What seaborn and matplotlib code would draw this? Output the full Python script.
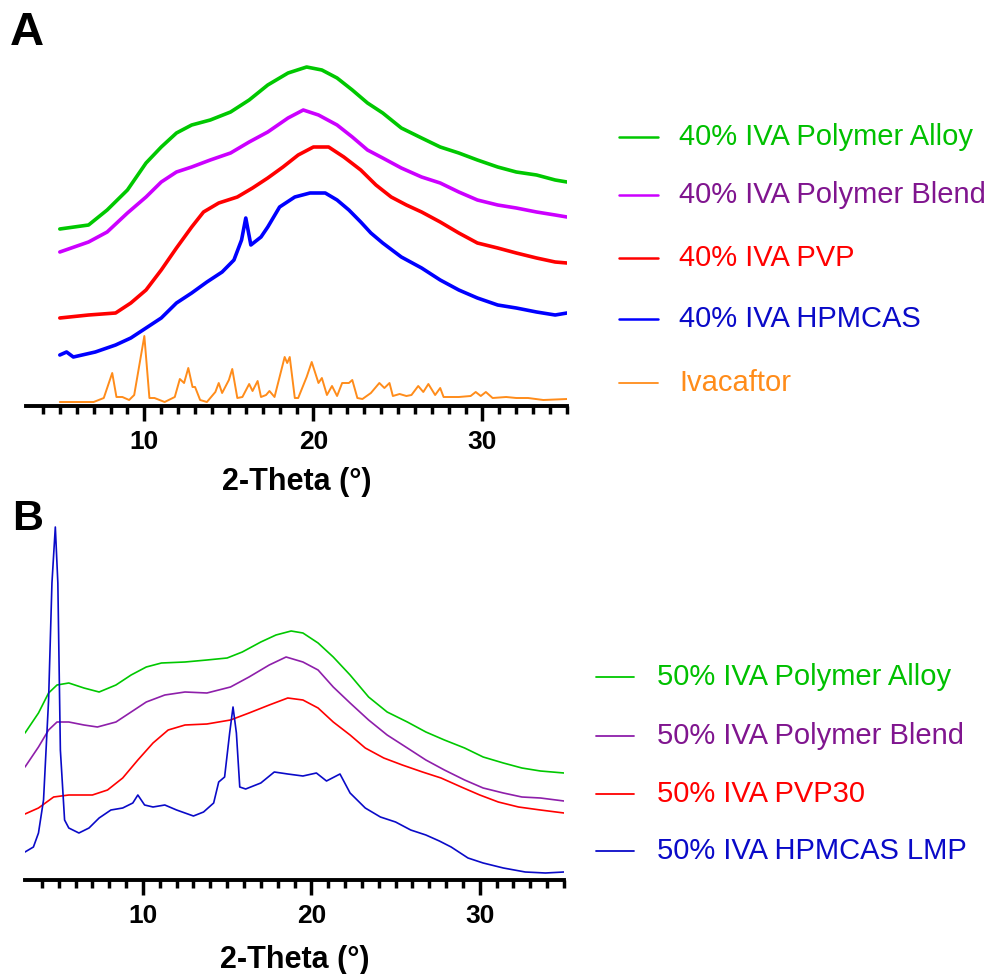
import pandas as pd
import matplotlib.pyplot as plt
import seaborn as sns
from matplotlib.lines import Line2D
from matplotlib.ticker import FixedLocator

sns.set_style("white")
plt.rcParams["font.family"] = ["Liberation Sans", "DejaVu Sans"]
plt.rcParams["text.color"] = "black"
plt.rcParams["xtick.color"] = "black"
plt.rcParams["axes.labelcolor"] = "black"

# ---- panel A : 40% drug load (intensities in a.u., stacked as plotted) ----
a_alloy_x = [5.0, 6.7, 7.8, 9.0, 10.1, 11.0, 11.9, 12.8, 13.9, 15.1, 16.2, 17.3, 18.5, 19.6, 20.5,
             21.4, 22.3, 23.2, 24.1, 25.2, 26.4, 27.5, 28.6, 29.7, 30.9, 32.0, 33.2, 34.3, 35.0]
a_alloy_y = [177, 181, 196, 216, 243, 259, 273, 281, 286, 294, 306, 321, 333, 339, 336,
             328, 316, 303, 293, 278, 268, 259, 253, 246, 239, 234, 231, 226, 224]

a_blend_x = [5.0, 6.7, 7.8, 9.0, 10.1, 11.0, 11.9, 12.8, 13.9, 15.1, 16.2, 17.3, 18.5, 19.4, 20.3,
             21.4, 22.3, 23.2, 24.1, 25.2, 26.4, 27.5, 28.6, 29.7, 30.9, 32.0, 33.2, 34.3, 35.0]
a_blend_y = [154, 164, 174, 193, 209, 224, 234, 239, 246, 253, 264, 274, 288, 296, 291,
             281, 269, 256, 248, 238, 229, 223, 214, 206, 201, 198, 194, 191, 189]

a_pvp_x = [5.0, 6.7, 8.3, 9.2, 10.1, 11.0, 11.9, 12.8, 13.5, 14.4, 15.5, 16.4, 17.3, 18.2, 19.1, 20.0,
           20.9, 21.8, 22.8, 23.7, 24.6, 25.5, 26.4, 27.5, 28.6, 29.7, 30.9, 32.0, 33.2, 34.3, 35.0]
a_pvp_y = [88, 91, 93, 103, 116, 136, 158, 179, 194, 203, 209, 218, 228, 239, 251, 259,
           259, 249, 236, 221, 209, 201, 194, 184, 173, 163, 158, 153, 148, 144, 143]

a_hpmcas_x = [5.0, 5.4, 5.8, 7.1, 8.3, 9.2, 10.1, 11.0, 11.9, 12.8, 13.7, 14.6, 15.3, 15.75, 16.0,
              16.3, 16.9, 17.3, 18.0, 18.9, 19.8, 20.7, 21.4, 22.1, 22.8, 23.4, 24.1, 25.2, 26.4,
              27.5, 28.6, 29.7, 30.9, 32.0, 33.2, 34.3, 35.0]
a_hpmcas_y = [51, 54, 49, 54, 61, 68, 78, 88, 103, 113, 124, 134, 146, 166, 188,
              161, 169, 179, 199, 209, 213, 213, 206, 196, 184, 173, 163, 149, 138,
              126, 116, 108, 101, 98, 94, 91, 93]

iva_x = [5.0, 7.0, 7.6, 8.1, 8.35, 8.7, 9.1, 9.4, 10.0, 10.3, 10.6, 11.2, 11.8, 12.1, 12.35, 12.6,
         12.85, 13.0, 13.3, 13.7, 14.2, 14.4, 14.6, 15.0, 15.2, 15.5, 15.8, 16.2, 16.4, 16.7, 16.9,
         17.2, 17.4, 17.7, 18.0, 18.3, 18.45, 18.6, 18.9, 19.1, 19.6, 19.9, 20.3, 20.5, 20.8, 21.1,
         21.4, 21.7, 22.1, 22.3, 22.6, 22.9, 23.4, 23.9, 24.2, 24.5, 24.7, 25.1, 25.5, 25.8, 26.2,
         26.5, 26.8, 27.2, 27.5, 27.7, 28.6, 29.3, 29.6, 29.9, 30.2, 30.6, 31.4, 32.0, 32.7, 33.6, 35.0]
iva_y = [4, 4, 8, 33, 9, 9, 6, 11, 70, 8, 8, 4, 9, 27, 23, 38,
         19, 19, 6, 4, 14, 23, 13, 26, 37, 8, 9, 22, 15, 25, 9,
         11, 15, 9, 29, 49, 43, 49, 8, 8, 29, 44, 23, 28, 11, 20,
         10, 23, 23, 26, 8, 7, 13, 23, 18, 23, 10, 12, 10, 11, 20,
         14, 22, 11, 18, 9, 9, 10, 14, 10, 14, 8, 9, 8, 8, 6, 7]

# ---- panel B : 50% drug load ----
b_alloy_x = [3.0, 3.8, 4.4, 4.9, 5.6, 6.5, 7.4, 8.4, 9.3, 10.2, 11.1, 12.5, 13.8, 15.0, 15.9, 17.0,
             17.9, 18.8, 19.5, 20.4, 21.3, 22.3, 23.4, 24.5, 25.7, 26.8, 27.9, 29.1, 30.2, 31.4,
             32.5, 33.6, 35.0]
b_alloy_y = [147, 167, 187, 195, 197, 192, 188, 195, 205, 213, 217, 218, 220, 222, 228, 238,
             245, 249, 247, 237, 223, 205, 183, 168, 158, 148, 140, 132, 123, 117,
             112, 109, 107]

b_blend_x = [3.0, 3.8, 4.4, 4.9, 5.6, 6.5, 7.3, 8.4, 9.3, 10.2, 11.3, 12.5, 13.8, 15.2, 16.3, 17.5,
             18.5, 19.5, 20.4, 21.3, 22.3, 23.4, 24.5, 25.7, 26.8, 27.9, 29.1, 30.2, 31.4, 32.5,
             33.6, 35.0]
b_blend_y = [113, 133, 150, 158, 158, 155, 153, 158, 168, 178, 185, 188, 187, 193, 203, 215,
             223, 218, 210, 193, 177, 160, 145, 132, 120, 110, 100, 92, 87, 83,
             82, 79]

b_pvp_x = [3.0, 3.8, 4.7, 5.6, 7.0, 7.9, 8.8, 9.7, 10.6, 11.5, 12.5, 13.8, 15.2, 16.3, 17.5, 18.6,
           19.5, 20.4, 21.3, 22.3, 23.2, 24.3, 25.4, 26.6, 27.7, 28.9, 30.0, 31.1, 32.3, 33.6, 35.0]
b_pvp_y = [66, 72, 83, 85, 85, 90, 102, 120, 137, 150, 155, 156, 160, 167, 175, 182,
           180, 172, 158, 145, 132, 122, 115, 108, 102, 93, 85, 78, 73, 70, 67]

b_hpmcas_x = [3.0, 3.5, 3.8, 4.1, 4.4, 4.6, 4.8, 4.95, 5.1, 5.35, 5.6, 6.2, 6.8, 7.4, 8.1, 8.8, 9.4,
              9.7, 10.1, 10.6, 11.3, 12.0, 13.0, 13.6, 14.2, 14.5, 14.85, 15.15, 15.35, 15.55, 15.75,
              16.1, 17.0, 17.8, 18.6, 19.5, 20.3, 20.9, 21.7, 22.3, 23.2, 24.1, 25.0, 25.9, 26.8,
              27.6, 28.3, 29.3, 30.2, 31.4, 32.7, 33.9, 35.0]
b_hpmcas_y = [28, 33, 47, 80, 180, 297, 353, 297, 130, 60, 52, 47, 52, 62, 70, 72, 77,
              85, 75, 73, 75, 70, 64, 68, 77, 98, 103, 147, 173, 147, 93,
              91, 97, 108, 106, 104, 107, 99, 106, 87, 72, 63, 58, 50, 45,
              39, 33, 22, 17, 12, 8, 7, 8]

a_labels = ["40% IVA Polymer Alloy", "40% IVA Polymer Blend", "40% IVA PVP",
            "40% IVA HPMCAS", "Ivacaftor"]
b_labels = ["50% IVA Polymer Alloy", "50% IVA Polymer Blend", "50% IVA PVP30",
            "50% IVA HPMCAS LMP"]

a_line_col = ["#00C800", "#CC00FF", "#FF0000", "#0000FF", "#FF8C1A"]
a_text_col = ["#00C000", "#80158F", "#FF0000", "#0A0AC8", "#FF8C1A"]
b_line_col = ["#00C800", "#8E1FAA", "#FF0000", "#0A0AC8"]
b_text_col = ["#00C000", "#80158F", "#FF0000", "#0A0AC8"]


def long_df(xs, ys, labels):
    parts = [pd.DataFrame({"two_theta": x, "intensity": y, "sample": lab})
             for x, y, lab in zip(xs, ys, labels)]
    return pd.concat(parts, ignore_index=True)


df_a = long_df([a_alloy_x, a_blend_x, a_pvp_x, a_hpmcas_x, iva_x],
               [a_alloy_y, a_blend_y, a_pvp_y, a_hpmcas_y, iva_y], a_labels)
df_b = long_df([b_alloy_x, b_blend_x, b_pvp_x, b_hpmcas_x],
               [b_alloy_y, b_blend_y, b_pvp_y, b_hpmcas_y], b_labels)

W, H = 996, 974
fig = plt.figure(figsize=(W / 100, H / 100), dpi=100)


def style_axis(ax, ytop):
    ax.set_xlim(3, 35)
    ax.set_ylim(0, ytop)
    for s in ["left", "right", "top"]:
        ax.spines[s].set_visible(False)
    ax.spines["bottom"].set_linewidth(2.8)
    ax.spines["bottom"].set_color("black")
    ax.set_yticks([])
    ax.set_xticks([10, 20, 30])
    ax.xaxis.set_minor_locator(FixedLocator([v for v in range(4, 36) if v % 10]))
    ax.tick_params(axis="x", which="major", direction="out", length=10.5, width=2.5,
                   pad=7, labelsize=19, bottom=True, colors="black")
    ax.tick_params(axis="x", which="minor", direction="out", length=6, width=2.5,
                   bottom=True, colors="black")
    for lab in ax.get_xticklabels():
        lab.set_fontweight("bold")
    ax.set_xlabel("2-Theta (°)", fontsize=22, fontweight="bold", va="center")
    ax.set_ylabel("")
    ax.patch.set_alpha(0)


# panel A
ax_a = fig.add_axes([26 / W, 1 - 406 / H, 541 / W, 366 / H])
sns.lineplot(data=df_a[df_a["sample"] != "Ivacaftor"], x="two_theta", y="intensity",
             hue="sample", palette=dict(zip(a_labels, a_line_col)), estimator=None,
             linewidth=2.6, legend=False, ax=ax_a)
sns.lineplot(data=df_a[df_a["sample"] == "Ivacaftor"], x="two_theta", y="intensity",
             color=a_line_col[4], estimator=None, linewidth=1.4, legend=False, ax=ax_a)
style_axis(ax_a, 366)
ax_a.xaxis.set_label_coords(0.5, -76 / 366)

# panel B
ax_b = fig.add_axes([25 / W, 1 - 880 / H, 539 / W, 360 / H])
sns.lineplot(data=df_b, x="two_theta", y="intensity", hue="sample",
             palette=dict(zip(b_labels, b_line_col)), estimator=None,
             linewidth=1.2, legend=False, ax=ax_b)
style_axis(ax_b, 360)
ax_b.xaxis.set_label_coords(0.5, -80 / 360)

# panel letters
fig.text(10 / W, 1 - 33 / H, "A", fontsize=34, fontweight="bold", va="center", ha="left",
         color="black")
fig.text(12 / W, 1 - 519 / H, "B", fontsize=31, fontweight="bold", va="center", ha="left",
         color="black")

# hand-placed legends
a_rows = [137, 195, 258, 319, 383]
for i, (lab, yy) in enumerate(zip(a_labels, a_rows)):
    lw = 1.3 if lab == "Ivacaftor" else 1.8
    fig.add_artist(Line2D([619 / W, 658 / W], [1 - yy / H, 1 - yy / H],
                          color=a_line_col[i], lw=lw))
    fig.text(679 / W, 1 - yy / H, lab, color=a_text_col[i], fontsize=21,
             va="center", ha="left")

b_rows = [677, 736, 794, 851]
for i, (lab, yy) in enumerate(zip(b_labels, b_rows)):
    fig.add_artist(Line2D([596 / W, 634 / W], [1 - yy / H, 1 - yy / H],
                          color=b_line_col[i], lw=1.3))
    fig.text(657 / W, 1 - yy / H, lab, color=b_text_col[i], fontsize=21,
             va="center", ha="left")

fig.savefig("out.png", dpi=100)
plt.close(fig)
